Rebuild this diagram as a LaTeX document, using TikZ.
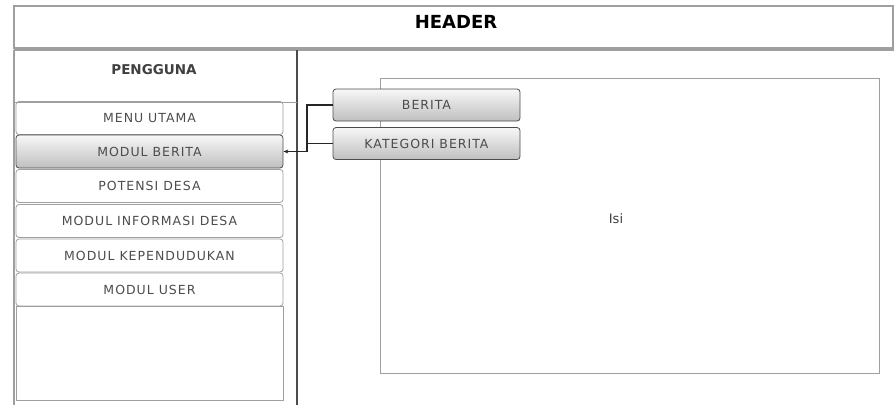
\documentclass[tikz,border=0pt]{standalone}
\usepackage{fontspec}
\setmainfont{DejaVu Sans}
\usetikzlibrary{positioning,arrows.meta}
\tikzset{
  frame/.style={draw=gray!75, line width=1pt},
  menuitem/.style={draw=gray!75, line width=0.8pt, rounded corners=3pt,
    minimum width=267pt, minimum height=33pt, inner sep=0pt, text=black!70,
    font=\fontsize{12.5}{14}\selectfont\addfontfeature{LetterSpace=8}},
  menuactive/.style={menuitem, draw=gray!60!black,
    top color=gray!6, bottom color=gray!50},
  tabbtn/.style={menuactive, minimum width=187pt, minimum height=32pt},
  link/.style={draw=black!85, line width=1.2pt}
}
\begin{document}
\begin{tikzpicture}[x=1pt,y=-1pt]
  \useasboundingbox (0,0) rectangle (894,405);
  % header
  \draw[frame, line width=1.3pt] (14,6) rectangle (893,48);
  \node[font=\bfseries\fontsize{18}{20}\selectfont] (header) at (456,22) {HEADER};
  % left panel
  \draw[frame, line width=1.6pt] (14,50) -- (894,50);
  \draw[frame, line width=1.3pt] (14,50) -- (14,405);
  \draw[draw=gray!60!black, line width=2.6pt] (297,50) -- (297,405);
  \draw[frame] (14,102) -- (297,102);
  \node[font=\bfseries\fontsize{13.5}{15}\selectfont, text=black!75] (pengguna) at (154,70) {PENGGUNA};
  \foreach \nm/\yc/\txt in {m1/118/MENU UTAMA, m3/186/POTENSI DESA,
      m4/221/MODUL INFORMASI DESA, m5/255.5/MODUL KEPENDUDUKAN, m6/289.5/MODUL USER} {
    \node[menuitem] (\nm) at (149.5,\yc) {\txt};
  }
  \node[menuactive] (m2) at (149.5,151.5) {MODUL BERITA};
  \draw[draw=gray!75, line width=0.8pt] (16,306) rectangle (283,400);
  % isi
  \draw[frame] (380,78) rectangle (879,373);
  \node[font=\fontsize{13}{15}\selectfont, text=black!75] (isi) at (616,219) {Isi};
  \node[tabbtn] (berita) at (426.5,105) {BERITA};
  \node[tabbtn] (kategori) at (426.5,143.5) {KATEGORI BERITA};
  % connectors
  \coordinate (bus) at (307,0);
  \draw[link] (kategori.west) -- (kategori.west -| bus);
  \draw[link, -{Stealth[length=5pt,width=4pt]}] (berita.west) -- (berita.west -| bus) |- (m2.east);
\end{tikzpicture}
\end{document}
